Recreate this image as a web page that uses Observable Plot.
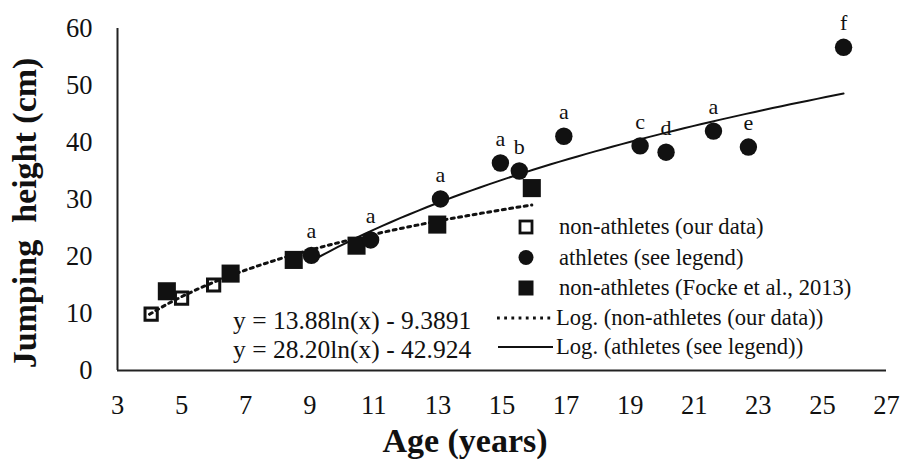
<!DOCTYPE html>
<html><head><meta charset="utf-8">
<script src="https://cdn.jsdelivr.net/npm/d3@7"></script>
<script src="https://cdn.jsdelivr.net/npm/@observablehq/plot@0.6"></script>
<style>
body{margin:0;background:#fff;}
#chart{position:relative;width:902px;height:461px;}
#chart svg text{font-family:"Liberation Serif","Times New Roman",serif !important;}
</style></head><body><div id="chart"></div>
<script>
// ---- data ----
const ourAge   = [4.05, 5.0, 6.0];
const ourJump  = [9.9, 12.7, 15.0];
const fockeAge  = [4.54, 6.53, 8.5, 10.46, 12.98, 15.93];
const fockeJump = [13.9, 17.0, 19.4, 21.9, 25.6, 32.0];
const athAge   = [9.05, 10.9, 13.08, 14.95, 15.54, 16.93, 19.31, 20.12, 21.6, 22.69, 25.66];
const athJump  = [20.2, 22.9, 30.1, 36.4, 35.0, 41.1, 39.4, 38.3, 42.0, 39.2, 56.7];
const athLabel = ["a", "a", "a", "a", "b", "a", "c", "d", "a", "e", "f"];
const xTicks = [3, 5, 7, 9, 11, 13, 15, 17, 19, 21, 23, 25, 27];
const yTicks = [0, 10, 20, 30, 40, 50, 60];
// printed logarithmic trendlines: y = a ln(x) + b, drawn over the age span of each series
const fitNonCoef = [13.88, -9.3891];
const fitNonSpan = [4.0, 15.93];
const fitAthCoef = [28.20, -42.924];
const fitAthSpan = [9.05, 25.66];
const eqTexts = ["y = 13.88ln(x) - 9.3891", "y = 28.20ln(x) - 42.924"];
const legendTexts = ["non-athletes (our data)", "athletes (see legend)", "non-athletes (Focke et al., 2013)",
  "Log. (non-athletes (our data))", "Log. (athletes (see legend))"];

const our = ourAge.map((a, i) => ({age: a, jump: ourJump[i]}));
const focke = fockeAge.map((a, i) => ({age: a, jump: fockeJump[i]}));
const ath = athAge.map((a, i) => ({age: a, jump: athJump[i], lab: athLabel[i]}));
function trend(coef, span) {
  return d3.range(0, 61).map(k => {
    const x = span[0] + (span[1] - span[0]) * k / 60;
    return {age: x, jump: coef[0] * Math.log(x) + coef[1]};
  });
}
const trendNon = trend(fitNonCoef, fitNonSpan);
const trendAth = trend(fitAthCoef, fitAthSpan);

const ink = "#111";
const serif = '"Liberation Serif", "Times New Roman", serif';
const chart = Plot.plot({
  width: 902, height: 461,
  marginLeft: 117, marginRight: 16, marginTop: 28, marginBottom: 91,
  style: {fontFamily: serif, fontSize: "26px", color: ink, background: "#fff"},
  x: {domain: [3, 27]},
  y: {domain: [0, 60]},
  marks: [
    Plot.axisX({ticks: xTicks, tickSize: 0, tickPadding: 25, label: null, fontSize: 26.5, fontFamily: serif}),
    Plot.axisY({ticks: yTicks, tickSize: 0, tickPadding: 25, label: null, fontSize: 26.5, fontFamily: serif}),
    Plot.ruleY([0], {stroke: "#222", strokeWidth: 2}),
    Plot.ruleX([3], {stroke: "#222", strokeWidth: 2}),
    Plot.line(trendNon, {x: "age", y: "jump", stroke: ink, strokeWidth: 3, strokeDasharray: "3,4.4"}),
    Plot.line(trendAth, {x: "age", y: "jump", stroke: ink, strokeWidth: 2}),
    Plot.dot(our, {x: "age", y: "jump", symbol: "square", r: 6.9, fill: "none", stroke: ink, strokeWidth: 3}),
    Plot.dot(focke, {x: "age", y: "jump", symbol: "square", r: 10.2, fill: ink, stroke: "none"}),
    Plot.dot(ath, {x: "age", y: "jump", r: 8.7, fill: ink, stroke: "none"}),
    Plot.text(ath, {x: "age", y: "jump", text: "lab", dy: -24, fontSize: 22, fill: ink, fontFamily: serif})
  ]
});
document.getElementById("chart").appendChild(chart);

const svg = d3.select(chart);
const g = svg.append("g").attr("fill", ink);
// axis titles
g.append("text").attr("x", 465).attr("y", 452).attr("text-anchor", "middle")
  .attr("font-size", 34).attr("font-weight", "bold").text("Age (years)");
g.append("text").attr("transform", "translate(36,213) rotate(-90)").attr("text-anchor", "middle")
  .attr("font-size", 34).attr("font-weight", "bold").text("Jumping\u00a0 height (cm)");

// legend
const rows = [227, 257.5, 288, 318, 347];
const lg = svg.append("g");
lg.append("rect").attr("x", 526 - 6).attr("y", rows[0] - 6).attr("width", 12).attr("height", 12)
  .attr("fill", "none").attr("stroke", ink).attr("stroke-width", 2.8);
lg.append("circle").attr("cx", 526).attr("cy", rows[1]).attr("r", 7.5).attr("fill", ink);
lg.append("rect").attr("x", 526 - 7.5).attr("y", rows[2] - 7.5).attr("width", 15).attr("height", 15).attr("fill", ink);
lg.append("line").attr("x1", 497).attr("x2", 551).attr("y1", rows[3]).attr("y2", rows[3])
  .attr("stroke", ink).attr("stroke-width", 2.8).attr("stroke-dasharray", "2.8,4.4");
lg.append("line").attr("x1", 498).attr("x2", 553).attr("y1", rows[4]).attr("y2", rows[4])
  .attr("stroke", ink).attr("stroke-width", 2);
legendTexts.forEach((t, i) => {
  lg.append("text").attr("x", i < 3 ? 559 : 556).attr("y", rows[i]).attr("dy", "0.33em")
    .attr("text-anchor", "start").attr("font-size", 22.6).attr("fill", ink).text(t);
});
eqTexts.forEach((t, i) => {
  lg.append("text").attr("x", 233).attr("y", rows[3 + i] + 2).attr("dy", "0.35em")
    .attr("text-anchor", "start").attr("font-size", 25.5).attr("fill", ink).text(t);
});
</script></body></html>
